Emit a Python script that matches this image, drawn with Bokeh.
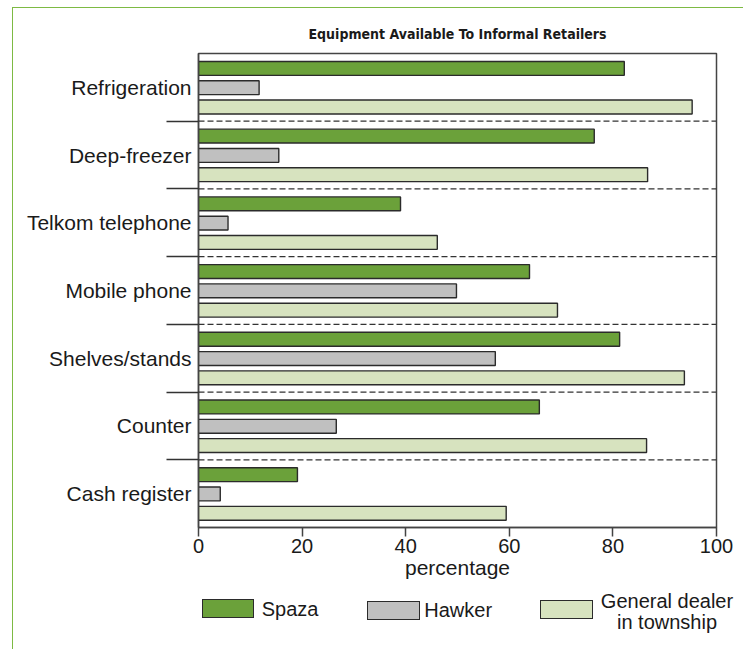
from bokeh.plotting import figure
from bokeh.layouts import column
from bokeh.models import FixedTicker, Span, ColumnDataSource, Div
from bokeh.embed import file_html
from bokeh.resources import INLINE

categories = ["Refrigeration", "Deep-freezer", "Telkom telephone", "Mobile phone",
              "Shelves/stands", "Counter", "Cash register"]
spaza = [82.2, 76.4, 39.0, 63.9, 81.3, 65.8, 19.1]
hawker = [11.7, 15.5, 5.7, 49.8, 57.3, 26.6, 4.2]
general = [95.3, 86.7, 46.1, 69.3, 93.8, 86.5, 59.4]
series_names = ["Spaza", "Hawker", "General dealer\nin township"]
x_ticks = [0, 20, 40, 60, 80, 100]

colors = ["#6ba13a", "#c0c0c0", "#d7e3bf"]
offsets = [0.28, -0.005, -0.29]
n = len(categories)
centers = [n - i - 0.5 for i in range(n)]

W = 731
H_MAIN = 580
H_LEG = 62

p = figure(width=W, height=H_MAIN, x_range=(0, 100), y_range=(0, n),
           output_backend="svg", toolbar_location=None,
           min_border_left=185, min_border_right=28, min_border_top=45,
           min_border_bottom=H_MAIN - 519)

p.title.text = "Equipment Available To Informal Retailers"
p.title.align = "center"
p.title.text_font = "Liberation Sans Narrow, DejaVu Sans Condensed, sans-serif"
p.title.text_font_size = "14px"
p.title.text_font_style = "bold"
p.title.text_color = "#1a1a1a"
p.title.standoff = 24

for vals, col, off in zip([spaza, hawker, general], colors, offsets):
    src = ColumnDataSource(dict(y=[c + off for c in centers], right=vals))
    p.hbar(y="y", left=0, right="right", height=0.205, source=src,
           fill_color=col, line_color="#2b2b2b", line_width=1.4)

for k in range(1, n):
    p.add_layout(Span(location=k, dimension="width", line_color="#333333",
                      line_width=1.3, line_dash="6 3"))

p.grid.visible = False
p.outline_line_color = "#444444"
p.outline_line_width = 1.5

# x axis
p.xaxis.ticker = FixedTicker(ticks=x_ticks)
p.xaxis.major_tick_out = 9
p.xaxis.major_tick_in = 0
p.xaxis.minor_tick_out = 0
p.xaxis.minor_tick_in = 0
p.xaxis.major_tick_line_color = "#444444"
p.xaxis.major_tick_line_width = 1.5
p.xaxis.axis_line_color = "#444444"
p.xaxis.axis_line_width = 1.5
p.xaxis.major_label_text_font = "Liberation Sans"
p.xaxis.major_label_text_font_size = "20px"
p.xaxis.major_label_text_color = "#1a1a1a"
p.xaxis.major_label_standoff = 2
p.xaxis.axis_label = "percentage"
p.xaxis.axis_label_text_font = "Liberation Sans"
p.xaxis.axis_label_text_font_size = "21px"
p.xaxis.axis_label_text_font_style = "normal"
p.xaxis.axis_label_text_color = "#1a1a1a"
p.xaxis.axis_label_standoff = 0

# y axis
p.yaxis.ticker = FixedTicker(ticks=centers, minor_ticks=list(range(1, n)))
p.yaxis.major_label_overrides = {c: lab for c, lab in zip(centers, categories)}
p.yaxis.major_tick_out = 0
p.yaxis.major_tick_in = 0
p.yaxis.minor_tick_out = 32
p.yaxis.minor_tick_in = 0
p.yaxis.minor_tick_line_color = "#333333"
p.yaxis.minor_tick_line_width = 1.3
p.yaxis.axis_line_color = "#444444"
p.yaxis.axis_line_width = 1.5
p.yaxis.major_label_text_font = "Liberation Sans"
p.yaxis.major_label_text_font_size = "21px"
p.yaxis.major_label_text_color = "#1a1a1a"
p.yaxis.major_label_standoff = -25

# legend strip as HTML
box_left = [188.7, 354.0, 527.3]
box_top = [11.0, 13.0, 12.0]
text_left = [248.7, 411.3]
text_mid = [21.0, 22.0]
parts = ['<div style="position:relative;width:%dpx;height:%dpx;'
         'font-family:\'Liberation Sans\',Arial,sans-serif;font-size:20px;color:#1a1a1a;">' % (W, H_LEG)]
for bl, bt, col in zip(box_left, box_top, colors):
    parts.append('<div style="position:absolute;left:%.1fpx;top:%.1fpx;width:52.6px;height:19px;'
                 'box-sizing:border-box;background:%s;border:1.4px solid #2b2b2b;"></div>' % (bl, bt, col))
for tl, tm, nm in zip(text_left, text_mid, series_names[:2]):
    parts.append('<div style="position:absolute;left:%.1fpx;top:%.1fpx;line-height:23px;'
                 'white-space:nowrap;">%s</div>' % (tl, tm - 11.5, nm))
parts.append('<div style="position:absolute;left:554px;top:2.5px;width:200px;line-height:21px;'
             'text-align:center;white-space:nowrap;">%s</div>' % series_names[2].replace("\n", "<br>"))
parts.append('</div>')
leg = Div(text="".join(parts), width=W, height=H_LEG, margin=0)

layout = column(p, leg, spacing=0, margin=(7, 0, 0, 12))
layout.styles = {"border-top": "1.5px solid #7dba43", "border-left": "1.5px solid #7dba43"}

open("out.html", "w").write(file_html(layout, INLINE))
